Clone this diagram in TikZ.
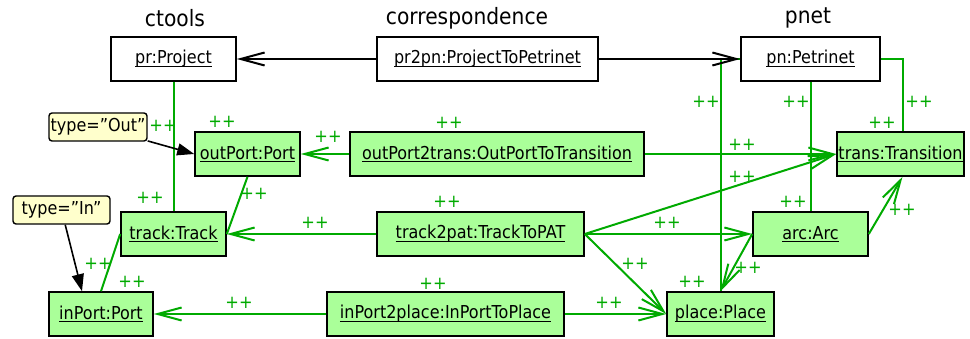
\documentclass[tikz,border=0pt]{standalone}
\usepackage{fontspec}
\setmainfont[FakeStretch=0.9]{DejaVu Sans}
\usetikzlibrary{arrows.meta}
\definecolor{lg}{RGB}{0,170,0}
\definecolor{fillg}{RGB}{170,255,153}
\definecolor{notey}{RGB}{255,255,204}
\newcommand\ulx[1]{\setbox0\hbox{#1}\rlap{\rule[-2.8pt]{\wd0}{1.1pt}}\box0}
\begin{document}
\begin{tikzpicture}[x=1pt,y=-1pt,
  obj/.style={draw=black, line width=1.6pt, minimum height=44pt, inner sep=0pt, font=\fontsize{17.8}{20}\selectfont},
  wobj/.style={obj, fill=white},
  gobj/.style={obj, fill=fillg},
  note/.style={draw=black, line width=1.4pt, fill=notey, rounded corners=3pt, minimum height=28pt, inner sep=0pt, font=\fontsize{17.8}{20}\selectfont},
  title/.style={font=\fontsize{22.5}{25}\selectfont, inner sep=0pt},
  pp/.style={text=lg, font=\fontsize{18}{20}\selectfont, inner sep=0pt},
  gline/.style={draw=lg, line width=2pt},
  garrow/.style={gline, -{Straight Barb[length=24pt,width=13pt]}},
  barrow/.style={draw=black, line width=2pt, -{Straight Barb[length=24pt,width=13pt]}},
  tri/.style={draw=black, line width=1.6pt, -{Triangle[length=17pt,width=12pt]}}
]
\useasboundingbox (0,0) rectangle (970,339);
% titles
\node[title] (tct) at (175,18) {ctools};
\node[title] (tco) at (467,18) {correspondence};
\node[title] (tpn) at (808,18) {pnet};
% nodes
\node[wobj, minimum width=125pt] (pr) at (173.5,59) {\ulx{pr:Project}};
\node[wobj, minimum width=221pt] (pr2pn) at (487.5,59) {\ulx{pr2pn:ProjectToPetrinet}};
\node[wobj, minimum width=139pt] (pn) at (810.5,59) {\ulx{pn:Petrinet}};
\node[gobj, minimum width=105pt] (outport) at (247.5,154) {\ulx{outPort:Port}};
\node[gobj, minimum width=294pt] (op2t) at (497,154) {\ulx{outPort2trans:OutPortToTransition}};
\node[gobj, minimum width=127pt] (trans) at (900.5,154) {\ulx{trans:Transition}};
\node[gobj, minimum width=105pt] (track) at (173.5,234) {\ulx{track:Track}};
\node[gobj, minimum width=207pt] (t2p) at (480.5,234) {\ulx{track2pat:TrackToPAT}};
\node[gobj, minimum width=115pt] (arc) at (810.5,234) {\ulx{arc:Arc}};
\node[gobj, minimum width=104pt] (inport) at (101,314) {\ulx{inPort:Port}};
\node[gobj, minimum width=237pt] (ip2p) at (445.5,314) {\ulx{inPort2place:InPortToPlace}};
\node[gobj, minimum width=107pt] (place) at (720.5,314) {\ulx{place:Place}};
\node[note, minimum width=98pt] (noteout) at (98,127) {type=”Out”};
\node[note, minimum width=97pt] (notein) at (61.5,210) {type=”In”};
% green connectors
\draw[gline] (pr.south) -- (track.north);
\draw[garrow] (op2t) -- (outport);
\draw[garrow] (op2t) -- (trans);
\draw[gline] (outport.south) -- (track.east);
\draw[garrow] (t2p) -- (track);
\draw[garrow] (t2p.east) -- (arc.west);
\draw[garrow] (t2p.east) -- (trans.west);
\draw[garrow] (t2p.east) -- (place.west);
\draw[gline] (track.west) -- (inport.north);
\draw[garrow] (ip2p) -- (inport);
\draw[garrow] (ip2p) -- (place);
\draw[gline] (place.north) |- (pn.west);
\draw[gline] (pn.south) -- (arc.north);
\draw[gline] (pn.east) -| ([xshift=2pt]trans.north);
\draw[garrow] (arc.east) -- ([xshift=2pt]trans.south);
\draw[garrow] (arc.west) -- (place.north);
% black connectors
\draw[barrow] (pr2pn) -- (pr);
\draw[barrow] (pr2pn) -- (pn);
\draw[tri] (noteout) -- (outport.west);
\draw[tri] (notein) -- ([xshift=-19pt]inport.north);
% ++ labels
\node[pp] (l1) at (163,126) {++};
\node[pp] (l2) at (222,122) {++};
\node[pp] (l3) at (449,123) {++};
\node[pp] (l4) at (328,137) {++};
\node[pp] (l5) at (706,102) {++};
\node[pp] (l6) at (796,102) {++};
\node[pp] (l7) at (919,102) {++};
\node[pp] (l8) at (882,123) {++};
\node[pp] (l9) at (742,145) {++};
\node[pp] (l10) at (150,198) {++};
\node[pp] (l11) at (254,194) {++};
\node[pp] (l12) at (98,264) {++};
\node[pp] (l13) at (132,282) {++};
\node[pp] (l14) at (239,303) {++};
\node[pp] (l15) at (315,223) {++};
\node[pp] (l16) at (447,202) {++};
\node[pp] (l17) at (433,284) {++};
\node[pp] (l18) at (635,264) {++};
\node[pp] (l19) at (609,303) {++};
\node[pp] (l20) at (742,177) {++};
\node[pp] (l21) at (667,223) {++};
\node[pp] (l22) at (793,202) {++};
\node[pp] (l23) at (902,210) {++};
\node[pp] (l24) at (748,268) {++};
\node[pp] (l25) at (692,282) {++};
\end{tikzpicture}
\end{document}
